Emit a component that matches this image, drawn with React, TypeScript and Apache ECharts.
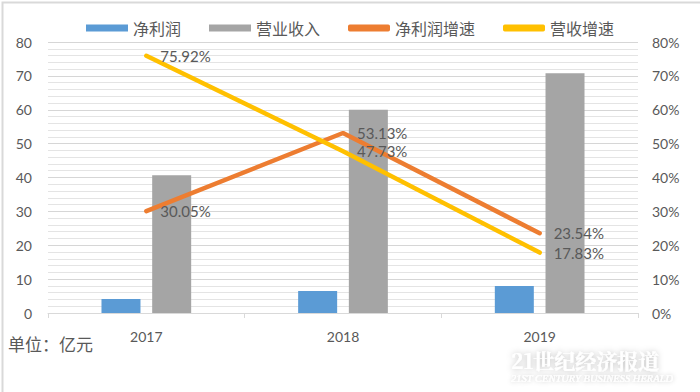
import React, { useEffect, useRef } from "react";
import * as echarts from "echarts";

const categories = ["2017", "2018", "2019"];
const netProfit = [4.1, 6.5, 8.0];
const revenue = [40.7, 60.0, 70.8];
const netProfitGrowth = [30.05, 53.13, 23.54];
const revenueGrowth = [75.92, 47.73, 17.83];

const FONT = "Lato, 'Noto Sans CJK SC', sans-serif";
const TXT = "#595959";

export default function App() {
  const ref = useRef<HTMLDivElement>(null);
  useEffect(() => {
    const chart = echarts.init(ref.current!, null, { renderer: "svg" });
    const label = {
      show: true,
      position: "right",
      distance: 14,
      color: TXT,
      fontSize: 15,
      fontFamily: FONT,
      formatter: (p: any) => p.value.toFixed(2) + "%",
    };
    chart.setOption({
      animation: false,
      backgroundColor: "#ffffff",
      textStyle: { fontFamily: FONT },
      legend: {
        top: 15,
        left: "center",
        itemWidth: 42,
        itemHeight: 7,
        itemGap: 28,
        textStyle: { color: TXT, fontSize: 16, fontFamily: FONT },
        data: [
          { name: "净利润", icon: "rect" },
          { name: "营业收入", icon: "rect" },
          { name: "净利润增速", icon: "roundRect" },
          { name: "营收增速", icon: "roundRect" },
        ],
      },
      grid: { left: 48, right: 62, top: 42, bottom: 79 },
      xAxis: {
        type: "category",
        data: categories,
        axisLine: { lineStyle: { color: "#D9D9D9", width: 1 } },
        axisTick: { show: true, length: 5, lineStyle: { color: "#D9D9D9" } },
        axisLabel: { color: TXT, fontSize: 14, margin: 16, fontFamily: FONT },
      },
      yAxis: [
        {
          type: "value",
          min: 0,
          max: 80,
          interval: 10,
          axisLine: { show: false },
          axisTick: { show: false },
          axisLabel: { color: TXT, fontSize: 14, margin: 16, fontFamily: FONT },
          splitLine: { lineStyle: { color: "#D6D6D6", width: 1 } },
          minorTick: { show: false, splitNumber: 5 },
          minorSplitLine: { show: true, lineStyle: { color: "#E4E4E4", width: 1 } },
        },
        {
          type: "value",
          min: 0,
          max: 80,
          interval: 10,
          axisLine: { show: false },
          axisTick: { show: false },
          axisLabel: { color: TXT, fontSize: 14, margin: 14, formatter: "{value}%", fontFamily: FONT },
          splitLine: { show: false },
        },
      ],
      series: [
        {
          name: "净利润",
          type: "bar",
          data: netProfit,
          barWidth: 39,
          barGap: "30%",
          itemStyle: { color: "#5B9BD5" },
        },
        {
          name: "营业收入",
          type: "bar",
          data: revenue,
          barWidth: 39,
          barGap: "30%",
          itemStyle: { color: "#A5A5A5" },
        },
        {
          name: "净利润增速",
          type: "line",
          yAxisIndex: 1,
          data: netProfitGrowth,
          symbol: "circle",
          symbolSize: 0,
          showSymbol: true,
          lineStyle: { color: "#ED7D31", width: 4.5, cap: "round" },
          itemStyle: { color: "#ED7D31" },
          label,
          z: 3,
        },
        {
          name: "营收增速",
          type: "line",
          yAxisIndex: 1,
          data: revenueGrowth,
          symbol: "circle",
          symbolSize: 0,
          showSymbol: true,
          lineStyle: { color: "#FFC000", width: 4.5, cap: "round" },
          itemStyle: { color: "#FFC000" },
          label,
          z: 4,
        },
      ],
      graphic: [
        {
          type: "rect",
          left: 0,
          top: 0,
          shape: { width: 699, height: 391 },
          style: { fill: "none", stroke: "#D9D9D9", lineWidth: 2 },
          silent: true,
        },
        {
          type: "text",
          left: 8,
          top: 335,
          style: { text: "单位：亿元", fill: TXT, fontSize: 17, fontFamily: "'Noto Sans CJK SC', sans-serif" },
        },
        {
          type: "text",
          left: 511,
          top: 349,
          style: {
            text: "21世纪经济报道",
            fill: "#ffffff",
            fontSize: 21,
            fontWeight: "bold",
            fontFamily: "'Noto Serif CJK SC', 'Noto Sans CJK SC', serif",
            textShadowColor: "rgba(0,0,0,0.3)",
            textShadowBlur: 6,
          },
        },
        {
          type: "text",
          left: 511,
          top: 373,
          style: {
            text: "21ST CENTURY BUSINESS HERALD",
            fill: "#ffffff",
            fontSize: 10.5,
            fontStyle: "italic",
            fontFamily: "'Liberation Serif', serif",
            textShadowColor: "rgba(0,0,0,0.3)",
            textShadowBlur: 4,
          },
        },
      ],
    });
    return () => chart.dispose();
  }, []);
  return (
    <div
      ref={ref}
      style={{ position: "absolute", left: 0, top: 0, width: 700, height: 392 }}
    />
  );
}
